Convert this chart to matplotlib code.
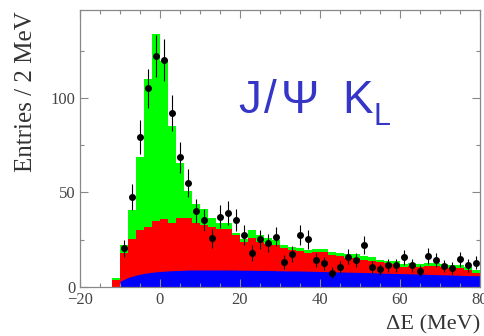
import numpy as np
import matplotlib
matplotlib.use("Agg")
import matplotlib.pyplot as plt
from matplotlib.ticker import MultipleLocator

# --- data (2 MeV bins, low edges -12 ... 78) ---
bin_edges = np.arange(-12, 82, 2)

# stacked tops: total (green), red component top
green_top = [4.5, 22.2, 40.7, 69, 110, 134, 119.5, 85, 65.5, 51,
             44, 41, 36.5, 34, 34, 28.5, 25.5, 30, 27.5, 26,
             25, 22, 21, 20.5, 19.5, 20, 20, 18.5, 18, 17.5,
             17.5, 16.5, 16, 14.5, 14, 13.5, 12, 12.5, 12, 12.5,
             12.5, 12, 11.5, 11.5, 10.5, 9]
red_top = [3.5, 17.8, 25.2, 30.2, 31.9, 35.0, 35.8, 34.0, 36.3, 36.3,
           34.0, 33.0, 31.5, 30.5, 30.5, 27.5, 24.0, 26.0, 24.0, 23.0,
           22.0, 20.5, 19.5, 19.0, 18.0, 18.5, 18.5, 17.0, 16.5, 15.5,
           15.5, 14.5, 14.0, 13.0, 12.5, 12.0, 10.5, 11.0, 10.5, 11.0,
           11.0, 10.5, 10.0, 10.0, 9.0, 7.5]

# blue component, read at the bin edges from -10 to 80
blue_x = np.arange(-10, 82, 2)
blue_val = [3.0, 5.0, 6.3, 7.2, 7.8, 8.2, 8.5, 8.7, 8.9, 9.0,
            9.0, 9.0, 9.0, 9.0, 9.0, 8.9, 8.9, 8.8, 8.8, 8.7,
            8.6, 8.5, 8.5, 8.4, 8.3, 8.2, 8.1, 8.0, 7.9, 7.8,
            7.7, 7.6, 7.5, 7.3, 7.2, 7.1, 7.0, 6.9, 6.8, 6.6,
            6.5, 6.4, 6.3, 6.1, 6.0, 6.0]

# data points (bin centres -9 ... 79)
data_x = np.arange(-9, 81, 2)
data_y = [20.5, 47.8, 79.5, 105, 122, 120, 92, 68.6, 55.2, 40.4,
          35.4, 25.8, 37.2, 39.3, 35.4, 27.5, 18.2, 25.2, 23.1, 26.6,
          13.4, 17.5, 27.5, 25.2, 14.3, 12.5, 7.6, 10.4, 16.0, 14.3,
          22.2, 10.4, 9.3, 11.6, 11.6, 15.7, 11.6, 8.6, 16.4, 14.3,
          11.1, 9.9, 14.6, 11.6, 12.9]

fig = plt.figure(figsize=(4.85, 3.36), dpi=100)
ax = fig.add_axes([80 / 485, 1 - 287 / 336, 400 / 485, 277 / 336])

def steps(vals):
    return np.append(vals, vals[-1])

ax.fill_between(bin_edges, 0, steps(green_top), step="post", color="#00ff00", lw=0)
ax.fill_between(bin_edges, 0, steps(red_top), step="post", color="#ff0000", lw=0)
ax.fill_between(blue_x, 0, blue_val, color="#0000ff", lw=0)

ax.errorbar(data_x, data_y, yerr=np.sqrt(data_y), fmt="o", ms=4,
            color="black", ecolor="black", elinewidth=0.8, capsize=0)

ax.set_xlim(-20, 80)
ax.set_ylim(0, 146.5)

ax.xaxis.set_major_locator(MultipleLocator(20))
ax.xaxis.set_minor_locator(MultipleLocator(5))
ax.yaxis.set_major_locator(MultipleLocator(50))
ax.yaxis.set_minor_locator(MultipleLocator(25))
ax.tick_params(which="both", direction="in", top=True, right=True,
               color="#888888", labelcolor="#444444", labelsize=12)
ax.tick_params(which="major", length=6, width=0.8)
ax.tick_params(which="minor", length=3, width=0.8)
for lab in ax.get_xticklabels() + ax.get_yticklabels():
    lab.set_family("Liberation Serif")
for sp in ax.spines.values():
    sp.set_color("#888888")
    sp.set_linewidth(0.9)

ax.set_xlabel("ΔE (MeV)", loc="right", family="Liberation Serif",
              fontsize=16, color="#333333", labelpad=5)
fig.text(26 / 485, 1 - 92 / 336, "Entries / 2 MeV", rotation=90,
         ha="center", va="center", family="Liberation Serif",
         fontsize=18, color="#333333")

# channel label, glyphs placed one by one to match the spacing
txt_col = "#3535c8"
for s, xp, yp, fs in [("J", 238, 113, 33), ("/", 264, 113, 33),
                      ("Ψ", 281, 113, 33), ("K", 342, 113, 33),
                      ("L", 374, 125, 22)]:
    fig.text(xp / 485, 1 - yp / 336, s, family="Liberation Sans",
             fontsize=fs, color=txt_col, va="baseline")

fig.savefig("out.png", dpi=100)
